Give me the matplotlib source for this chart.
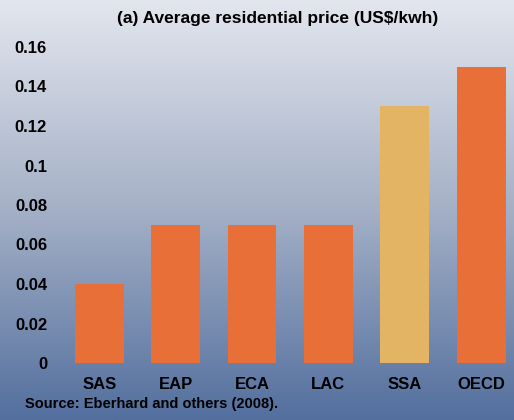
import numpy as np
import matplotlib
matplotlib.use('Agg')
import matplotlib.pyplot as plt
from matplotlib.colors import LinearSegmentedColormap

plt.rcParams.update({'font.family': 'Liberation Sans', 'font.weight': 'bold'})

# Data
regions = ['SAS', 'EAP', 'ECA', 'LAC', 'SSA', 'OECD']
prices = [0.04, 0.07, 0.07, 0.07, 0.13, 0.15]
bar_colors = ['#e86f38', '#e86f38', '#e86f38', '#e86f38', '#e3b464', '#e86f38']
yticks = [0, 0.02, 0.04, 0.06, 0.08, 0.1, 0.12, 0.14, 0.16]
ytick_labels = ['0', '0.02', '0.04', '0.06', '0.08', '0.1', '0.12', '0.14', '0.16']

W, H = 514, 420
fig = plt.figure(figsize=(W / 100, H / 100), dpi=100)

# background gradient
bg = fig.add_axes([0, 0, 1, 1], zorder=0)
cmap = LinearSegmentedColormap.from_list('bg', ['#e3e6ee', '#a4b0c6', '#536f9e'])
grad = np.linspace(0, 1, 256).reshape(-1, 1)
bg.imshow(grad, aspect='auto', cmap=cmap, extent=[0, 1, 0, 1], origin='upper')
bg.axis('off')

# main axes: y=0 at px 363, 0.16 at px 47, first bar centre at px 99
left, right = 61, 514
ax = fig.add_axes([left / W, (H - 363) / H, (right - left) / W, (363 - 47) / H], zorder=1)
ax.patch.set_alpha(0)
x = np.arange(len(regions))
ax.bar(x, prices, width=0.64, color=bar_colors)
ax.set_xlim(-0.5, -0.5 + (right - left) / 76.4)
ax.set_ylim(0, 0.16)
ax.set_xticks(x)
ax.set_xticklabels(regions, fontsize=12, fontweight='bold')
ax.set_yticks(yticks)
ax.set_yticklabels(ytick_labels, fontsize=12, fontweight='bold')
ax.tick_params(axis='x', length=0, pad=10)
ax.tick_params(axis='y', length=0, pad=10)
for s in ax.spines.values():
    s.set_visible(False)

fig.text(278 / W, 1 - 18 / H, '(a) Average residential price (US$/kwh)', ha='center', va='center',
         fontsize=12.5, fontweight='bold')
fig.text(25 / W, 1 - 404 / H, 'Source: Eberhard and others (2008).', ha='left', va='center',
         fontsize=10.5, fontweight='bold')

fig.savefig('out.png', dpi=100)
